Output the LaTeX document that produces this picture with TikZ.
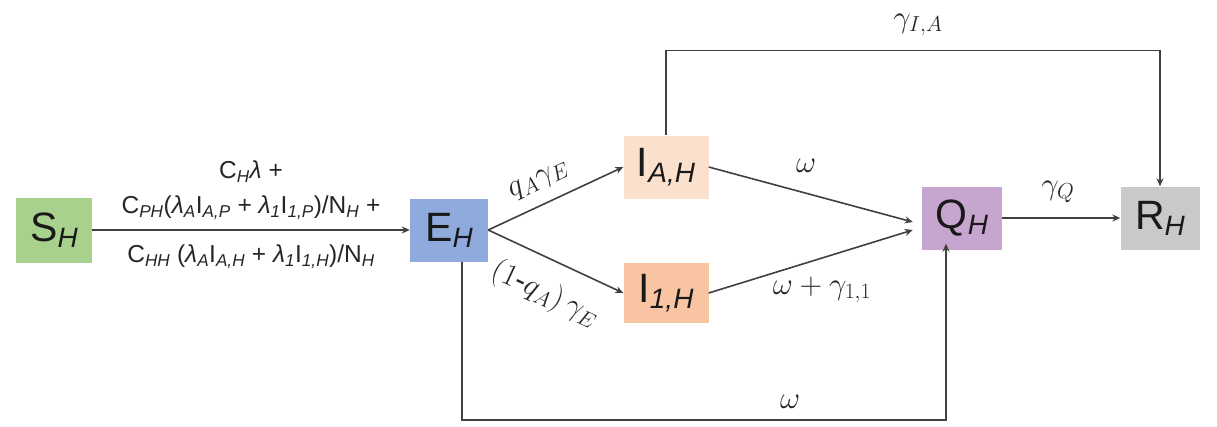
\documentclass[tikz,border=0pt]{standalone}
\usepackage{fix-cm}
\usepackage{fontspec}
\setmainfont{Liberation Sans}
\usetikzlibrary{arrows.meta,calc}

\definecolor{cS}{HTML}{A9D18E}
\definecolor{cE}{HTML}{8FAADC}
\definecolor{cIA}{HTML}{FCE0CE}
\definecolor{cIone}{HTML}{F8C4A2}
\definecolor{cQ}{HTML}{C6A5CF}
\definecolor{cR}{HTML}{C9C9C9}

% italic lowered subscript in the text font
\newcommand{\isub}[1]{\textsubscript{\itshape #1}}
% compartment label: big letter with italic subscript
\newcommand{\cmp}[2]{#1\raisebox{-0.28ex}{\fontsize{28}{28}\selectfont\itshape #2}}

\begin{document}
\begin{tikzpicture}[x=1pt,y=-1pt,
  comp/.style={inner sep=0pt, text=black!90, font=\fontsize{41}{44}\selectfont},
  flow/.style={draw=black!75, line width=1.6pt, -{Stealth[length=8pt,width=7pt]}},
  rate/.style={font=\fontsize{31}{34}\selectfont, text=black!85, inner sep=1pt},
  frate/.style={font=\fontsize{24.5}{35}\selectfont, text=black!85, align=center, inner sep=0pt}
]
\useasboundingbox (0,0) rectangle (1217,426);

% compartments
\node[comp, fill=cS,    minimum width=76pt, minimum height=65pt] (S)  at (54,230)   {\cmp{S}{H}};
\node[comp, fill=cE,    minimum width=78pt, minimum height=63pt] (E)  at (449,230)  {\cmp{E}{H}};
\node[comp, fill=cIA,   minimum width=85pt, minimum height=63pt] (IA) at (666,167)  {\cmp{I}{A,H}};
\node[comp, fill=cIone, minimum width=85pt, minimum height=60pt] (I1) at (666,293)  {\cmp{I}{1,H}};
\node[comp, fill=cQ,    minimum width=80pt, minimum height=63pt] (Q)  at (962,218)  {\cmp{Q}{H}};
\node[comp, fill=cR,    minimum width=79pt, minimum height=63pt] (R)  at (1160,218) {\cmp{R}{H}};

% ends of the two flows into Q
\coordinate (qa) at ($(Q.west)+(-9,4)$);
\coordinate (qb) at ($(Q.west)+(-9,12)$);

% infection
\draw[flow] (S.east) -- (E.west)
  node[frate, midway, above=10pt] {C\isub{H}\textit{λ} +\\
    C\isub{PH}(\textit{λ}\isub{A}I\isub{A,P} + \textit{λ}\isub{1}I\isub{1,P})/N\isub{H} +}
  node[frate, midway, below=14pt] {C\isub{HH} (\textit{λ}\isub{A}I\isub{A,H} + \textit{λ}\isub{1}I\isub{1,H})/N\isub{H}};

% progression from E
\draw[flow] (E.east) -- (IA.west);
\draw[flow] (E.east) -- (I1.west);
\node[rate, rotate=25]  (lqa) at (539,181) {$q_{A}\gamma_{E}$};
\node[rate, rotate=-25] (lqb) at (545,294) {$(1\mbox{-}q_{A})\,\gamma_{E}$};

% into quarantine
\draw[flow] (IA.east) -- (qa);
\draw[flow] (I1.east) -- (qb);
\node[rate] (lw1) at (806,166) {$\omega$};
\node[rate] (lw2) at (822,290) {$\omega + \gamma_{1,1}$};

% recovery
\draw[flow] (Q.east) -- (R.west);
\node[rate] (lgq) at (1058,192) {$\gamma_Q$};
\draw[flow] (IA.north) -- ++(0,-85) -| (R.north);
\node[rate] (lgia) at (918,25) {$\gamma_{I,A}$};

% direct quarantine of exposed
\draw[flow] ([xshift=13pt]E.south) -- ++(0,158) -| ([xshift=-16pt,yshift=6pt]Q.south);
\node[rate] (lw3) at (790,402) {$\omega$};
\end{tikzpicture}
\end{document}
